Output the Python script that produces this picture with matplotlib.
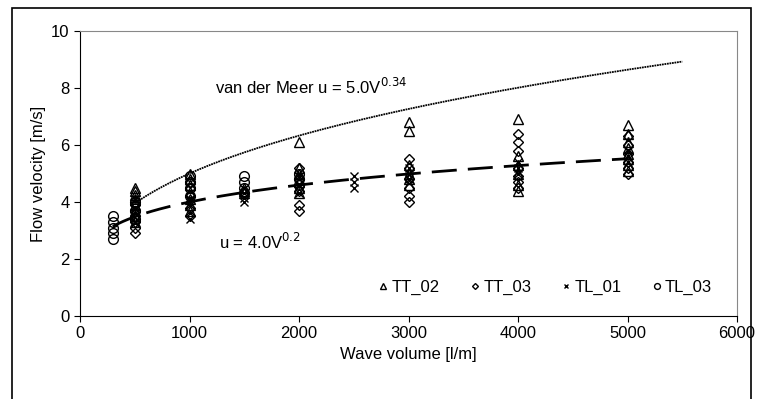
import numpy as np
import matplotlib.pyplot as plt
from matplotlib.patches import Rectangle

plt.rcParams['font.family'] = ['Liberation Sans', 'DejaVu Sans']

# measured points, wave volume [l/m] -> flow velocity [m/s]
tt02_x = [500]*8 + [1000]*7 + [1500]*3 + [2000]*6 + [3000]*6 + [4000]*6 + [5000]*8
tt02_y = [4.5, 4.4, 4.25, 4.1, 3.9, 3.7, 3.5, 3.3,
          5.0, 4.8, 4.6, 4.35, 4.1, 3.9, 3.7,
          4.5, 4.4, 4.3,
          6.1, 5.2, 5.0, 4.7, 4.5, 4.3,
          6.8, 6.5, 5.3, 5.0, 4.8, 4.6,
          6.9, 5.6, 5.3, 5.0, 4.6, 4.4,
          6.7, 6.4, 6.1, 5.9, 5.7, 5.5, 5.3, 5.1]
tt03_x = [500]*6 + [1000]*5 + [2000]*5 + [3000]*6 + [4000]*7 + [5000]*6
tt03_y = [2.9, 3.1, 3.3, 3.5, 3.7, 3.9,
          3.5, 3.8, 4.2, 4.5, 4.7,
          3.7, 3.9, 4.4, 4.8, 5.2,
          4.0, 4.2, 4.5, 4.8, 5.2, 5.5,
          6.4, 6.1, 5.8, 5.2, 4.9, 4.7, 4.5,
          5.0, 5.2, 5.4, 5.7, 6.0, 6.3]
tl01_x = [500]*4 + [1000]*4 + [1500]*3 + [2000]*3 + [2500]*3 + [3000]*3 + [4000]*3 + [5000]*3
tl01_y = [3.3, 3.6, 3.8, 4.1,
          3.4, 3.6, 3.9, 4.1,
          4.0, 4.15, 4.3,
          4.3, 4.6, 4.9,
          4.5, 4.7, 4.9,
          4.8, 5.0, 5.2,
          5.0, 5.2, 5.4,
          5.4, 5.6, 5.8]
tl03_x = [300]*5 + [500]*3 + [1000]*4 + [1500]*4 + [2000]*3
tl03_y = [2.7, 2.9, 3.1, 3.3, 3.5,
          3.4, 3.7, 4.0,
          4.2, 4.5, 4.7, 4.9,
          4.3, 4.5, 4.7, 4.9,
          4.6, 4.8, 5.0]

# fitted curves u = a * V^b (V in m3/m)
vdm_a, vdm_b = 5.0, 0.34
fit_a, fit_b = 4.0, 0.2

fig = plt.figure(figsize=(7.58, 3.99), dpi=100)
fig.patches.append(Rectangle((12/758, -0.05), 739/758, 1 - 8/399 + 0.05,
                             transform=fig.transFigure, fill=False,
                             edgecolor='black', linewidth=1.2))
ax = fig.add_axes([80/758, 1 - 316/399, 657/758, 285/399])

ms = dict(linestyle='none', markerfacecolor='none', markeredgecolor='black',
          markeredgewidth=1.0)
ax.plot(tt02_x, tt02_y, marker='^', markersize=7, label='TT_02', **ms)
ax.plot(tt03_x, tt03_y, marker='D', markersize=5, label='TT_03', **ms)
ax.plot(tl01_x, tl01_y, marker='x', markersize=6, label='TL_01', **ms)
ax.plot(tl03_x, tl03_y, marker='o', markersize=7, label='TL_03', **ms)

xv = np.linspace(500, 5500, 200)
ax.plot(xv, vdm_a * (xv / 1000) ** vdm_b, color='black', linewidth=1.3,
        linestyle=(0, (1, 0.4)))
xf = np.linspace(300, 5000, 200)
ax.plot(xf, fit_a * (xf / 1000) ** fit_b, color='black', linewidth=2,
        linestyle=(0, (9, 4)))

ax.text(1230, 8.05, 'van der Meer u = 5.0V$^{0.34}$', fontsize=12, va='center')
ax.text(1270, 2.6, 'u = 4.0V$^{0.2}$', fontsize=12, va='center')

ax.set_xlim(0, 6000)
ax.set_ylim(0, 10)
ax.set_xticks(range(0, 6001, 1000))
ax.set_yticks(range(0, 11, 2))
ax.tick_params(labelsize=12, direction='out', length=4)
ax.set_xlabel('Wave volume [l/m]', fontsize=12)
ax.set_ylabel('Flow velocity [m/s]', fontsize=12)
for s in ['top', 'right']:
    ax.spines[s].set_color('#888888')

ax.legend(loc='lower right', bbox_to_anchor=(0.985, 0.02), ncol=4, frameon=False,
          fontsize=12, handletextpad=0.0, columnspacing=1.6, markerscale=0.6,
          handlelength=1.0)

fig.savefig('out.png', dpi=100)
